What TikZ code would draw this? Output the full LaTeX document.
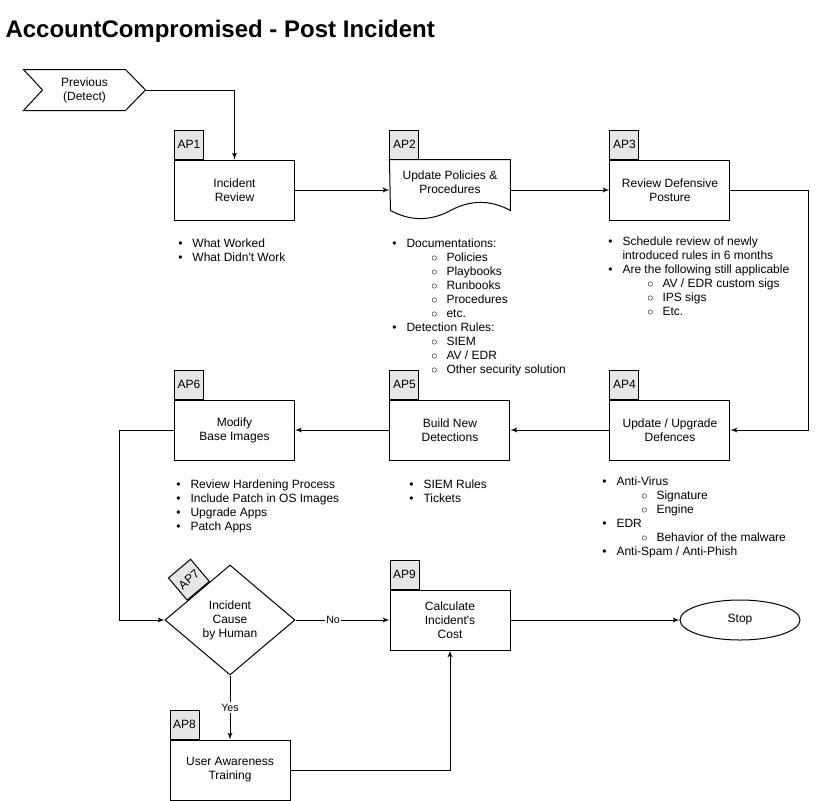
\documentclass[tikz,border=0pt]{standalone}
\usepackage{fontspec}
\setmainfont{Liberation Sans}
\usetikzlibrary{shapes,arrows,calc,positioning}
\definecolor{tabgrey}{HTML}{E6E6E6}
\tikzstyle{line} = [draw, -latex']
\tikzstyle{block} = [draw, rectangle, align=center, minimum width=90pt, minimum height=45pt, inner sep=0pt]
\tikzstyle{docu} = [rectangle, align=center, minimum width=90pt, minimum height=45pt, inner sep=0pt]
\tikzstyle{tab} = [draw, rectangle, fill=tabgrey, minimum size=21.75pt, inner sep=0pt]
\tikzstyle{decision} = [draw, diamond, align=center, minimum width=97.5pt, minimum height=82.5pt, inner sep=0pt]
\tikzstyle{cloud} = [draw, ellipse, minimum width=90pt, minimum height=30pt, inner sep=0pt]
\tikzstyle{notes} = [align=left, anchor=north west, inner sep=0pt]
\tikzstyle{lbl} = [fill=white, inner sep=1pt, font=\fontsize{8}{9}\selectfont]
\newcommand{\bitem}[1]{\makebox[0pt]{\textbullet}\hspace*{9pt}#1}
\newcommand{\citem}[1]{\hspace*{30pt}\makebox[0pt]{$\circ$}\hspace*{9pt}#1}
\newcommand{\bcont}[1]{\hspace*{9pt}#1}
\begin{document}
\begin{tikzpicture}[x=0.75pt, y=-0.75pt, line width=0.75pt, font=\fontsize{9}{10.5}\selectfont]
    \useasboundingbox (0,0) rectangle (819,801);
    \node[anchor=base west, inner sep=0pt, font=\fontsize{18}{21}\selectfont\bfseries] (title) at (5,37) {AccountCompromised - Post Incident};
    % start step
    \node[docu, minimum width=90.75pt, minimum height=30pt] (prev) at (84.5,90) {Previous\\(Detect)};
    \draw (prev.north west) -- ([xshift=-15pt]prev.north east) -- (prev.east) -- ([xshift=-15pt]prev.south east) -- (prev.south west) -- ([xshift=14.25pt]prev.west) -- cycle;
    % top row
    \node[block] (ap1) at (234.5,190) {Incident\\Review};
    \node[docu, right of=ap1, node distance=161.6pt] (ap2) {};
    \node[align=center, inner sep=0pt] (ap2txt) at ([yshift=6pt]ap2.center) {Update Policies \&\\Procedures};
    \draw (ap2.north west) -- (ap2.north east) -- ++(0,51) .. controls +(-20,-10.8) and +(20,-10.8) .. ++(-60,0) .. controls +(-20,10.8) and +(20,10.8) .. ++(-60,0) -- cycle;
    \node[block, right of=ap2, node distance=165pt] (ap3) {Review Defensive\\Posture};
    % middle row
    \node[block, below of=ap3, node distance=180pt] (ap4) {Update / Upgrade\\Defences};
    \node[block, left of=ap4, node distance=165pt] (ap5) {Build New\\Detections};
    \node[block, left of=ap5, node distance=161.6pt] (ap6) {Modify\\Base Images};
    % bottom row
    \node[decision, below of=ap6, node distance=142.5pt, xshift=-3.375pt] (cause) {Incident\\Cause\\by Human};
    \node[block, right of=cause, node distance=165pt] (ap9) {Calculate\\Incident\textquotesingle s\\Cost};
    \node[cloud, right of=ap9, node distance=217.5pt] (stop) {Stop};
    \node[block, below of=cause, node distance=112.5pt] (ap8) {User Awareness\\Training};
    % tabs
    \node[tab, anchor=south west] (ap1tab) at (ap1.north west) {AP1};
    \node[tab, anchor=south west] (ap2tab) at (ap2.north west) {AP2};
    \node[tab, anchor=south west] (ap3tab) at (ap3.north west) {AP3};
    \node[tab, anchor=south west] (ap4tab) at (ap4.north west) {AP4};
    \node[tab, anchor=south west] (ap5tab) at (ap5.north west) {AP5};
    \node[tab, anchor=south west] (ap6tab) at (ap6.north west) {AP6};
    \node[tab, rotate=40.2, anchor=south] (ap7tab) at ($(cause.west)!0.52!(cause.north)$) {AP7};
    \node[tab, anchor=south west] (ap8tab) at (ap8.north west) {AP8};
    \node[tab, anchor=south west] (ap9tab) at (ap9.north west) {AP9};
    % notes
    \node[notes] (ap1notes) at (180,238) {\bitem{What Worked}\\\bitem{What Didn\textquotesingle t Work}};
    \node[notes] (ap2notes) at (394,238) {\bitem{Documentations:}\\\citem{Policies}\\\citem{Playbooks}\\\citem{Runbooks}\\\citem{Procedures}\\\citem{etc.}\\\bitem{Detection Rules:}\\\citem{SIEM}\\\citem{AV / EDR}\\\citem{Other security solution}};
    \node[notes] (ap3notes) at (610,236) {\bitem{Schedule review of newly}\\\bcont{introduced rules in 6 months}\\\bitem{Are the following still applicable}\\\citem{AV / EDR custom sigs}\\\citem{IPS sigs}\\\citem{Etc.}};
    \node[notes] (ap4notes) at (604,476) {\bitem{Anti-Virus}\\\citem{Signature}\\\citem{Engine}\\\bitem{EDR}\\\citem{Behavior of the malware}\\\bitem{Anti-Spam / Anti-Phish}};
    \node[notes] (ap5notes) at (411,479) {\bitem{SIEM Rules}\\\bitem{Tickets}};
    \node[notes] (ap6notes) at (178,479) {\bitem{Review Hardening Process}\\\bitem{Include Patch in OS Images}\\\bitem{Upgrade Apps}\\\bitem{Patch Apps}};
    % connectors
    \path[line] (prev.east) -| (ap1.north);
    \path[line] (ap1) -- (ap2);
    \path[line] (ap2) -- (ap3);
    \path[line] (ap3.east) -- ++(78,0) |- (ap4.east);
    \path[line] (ap4) -- (ap5);
    \path[line] (ap5) -- (ap6);
    \path[line] (ap6.west) -- ++(-55,0) |- (cause.west);
    \path[line] (cause) -- node[lbl, pos=0.4] {No} (ap9);
    \path[line] (cause) -- node[lbl] {Yes} (ap8);
    \path[line] (ap8.east) -| (ap9.south);
    \path[line] (ap9) -- (stop);
\end{tikzpicture}
\end{document}
